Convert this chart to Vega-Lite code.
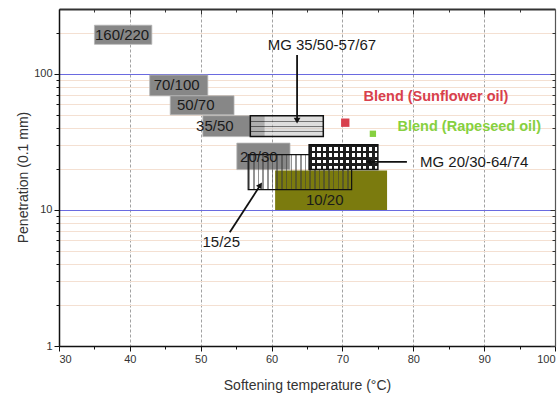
{
  "$schema": "https://vega.github.io/schema/vega-lite/v6.json",
  "width": 496,
  "height": 337,
  "autosize": {"type": "none"},
  "padding": {"left": 59, "top": 9, "right": 2, "bottom": 52},
  "background": "white",
  "config": {"view": {"stroke": null}, "font": "Liberation Sans"},
  "datasets": {
    "boxes": [
      {"name": "160/220", "kind": "grade", "x": 35, "x2": 43.1, "y": 165, "y2": 228},
      {"name": "70/100", "kind": "grade", "x": 42.8, "x2": 51, "y": 69, "y2": 98},
      {"name": "50/70", "kind": "grade", "x": 45.7, "x2": 54.7, "y": 50, "y2": 69},
      {"name": "35/50", "kind": "grade", "x": 50.3, "x2": 59, "y": 34.6, "y2": 49.3},
      {"name": "20/30", "kind": "grade", "x": 55.1, "x2": 62.6, "y": 19.8, "y2": 31},
      {"name": "10/20", "kind": "olive", "x": 60.5, "x2": 76.3, "y": 10, "y2": 19.5},
      {"name": "15/25", "kind": "striped", "x": 56.7, "x2": 71.3, "y": 14.1, "y2": 25.5},
      {"name": "MG 35/50-57/67", "kind": "mg1", "x": 57, "x2": 67.3, "y": 34.6, "y2": 49.3},
      {"name": "MG 20/30-64/74", "kind": "mg2", "x": 65.3, "x2": 75, "y": 19.8, "y2": 30.2}
    ],
    "gradeLabels": [
      {"text": "160/220", "x": 38.9, "y": 193},
      {"text": "70/100", "x": 46.6, "y": 83},
      {"text": "50/70", "x": 49.3, "y": 59.3},
      {"text": "35/50", "x": 52.0, "y": 41.6},
      {"text": "20/30", "x": 58.2, "y": 24.7},
      {"text": "10/20", "x": 67.5, "y": 11.9}
    ],
    "notes": [
      {"text": "MG 35/50-57/67", "x": 67.1, "y": 163},
      {"text": "MG 20/30-64/74", "x": 88.6, "y": 22.6},
      {"text": "15/25", "x": 52.9, "y": 5.78}
    ],
    "blends": [
      {"series": "Sunflower", "label": "Blend (Sunflower oil)", "x": 70.4, "y": 43.8, "lx": 83.2, "ly": 67.9},
      {"series": "Rapeseed", "label": "Blend (Rapeseed oil)", "x": 74.3, "y": 36.3, "lx": 87.9, "ly": 40.9}
    ],
    "arrows": [
      {"id": "a1", "x": 63.6, "y": 138, "x2": 63.6, "y2": 45.3},
      {"id": "a2", "x": 79.1, "y": 22.6, "x2": 73.75, "y2": 22.6},
      {"id": "a3", "x": 54.1, "y": 6.85, "x2": 58.42, "y2": 15.25}
    ]
  },
  "resolve": {"axis": {"x": "independent", "y": "independent"}},
  "layer": [
    {
      "data": {"name": "boxes"},
      "transform": [{"filter": "datum.kind == 'grade'"}],
      "mark": {"type": "rect", "fill": "#878787", "stroke": "#b4b4b4", "strokeWidth": 0.8},
      "encoding": {
        "x": {"field": "x", "type": "quantitative", "scale": {"domain": [30, 100], "nice": false, "zero": false},
          "axis": {"orient": "bottom", "values": [30, 40, 50, 60, 70, 80, 90, 100], "grid": true,
            "gridColor": {"condition": {"test": "datum.value == 30 || datum.value == 100", "value": "rgba(0,0,0,0)"}, "value": "#8a8a8a"},
            "gridDash": [3, 2], "gridWidth": 0.8, "domain": true, "domainColor": "#111", "domainWidth": 1.5,
            "tickColor": "#111", "tickSize": 5, "tickWidth": 1, "labelFont": "Liberation Sans", "labelFontSize": 11, "labelColor": "#333", "labelPadding": 2,
            "title": "Softening temperature (°C)", "titleFont": "Liberation Sans", "titleFontSize": 14, "titleFontWeight": "normal", "titleColor": "#333",
            "titleY": 39, "titleBaseline": "middle"}},
        "x2": {"field": "x2"},
        "y": {"field": "y", "type": "quantitative", "scale": {"type": "log", "domain": [1, 300], "nice": false},
          "axis": {"orient": "left", "values": [1, 10, 100], "format": "d", "grid": true,
            "gridColor": {"condition": {"test": "datum.value < 5", "value": "rgba(0,0,0,0)"}, "value": "#6a6ae0"},
            "gridWidth": 1, "domain": true, "domainColor": "#111", "domainWidth": 1.5,
            "tickColor": "#111", "tickSize": 5, "tickWidth": 1, "labelFont": "Liberation Sans", "labelFontSize": 11, "labelColor": "#333", "labelPadding": 2,
            "title": "Penetration (0.1 mm)", "titleFont": "Liberation Sans", "titleFontSize": 14, "titleFontWeight": "normal", "titleColor": "#333",
            "titleX": -36, "titleY": 168, "titleAngle": -90, "titleAlign": "center", "titleBaseline": "middle"}},
        "y2": {"field": "y2"}
      }
    },
    {
      "data": {"name": "boxes"},
      "transform": [{"filter": "datum.kind == 'olive'"}],
      "mark": {"type": "rect", "fill": "#7b7b0e"},
      "encoding": {
        "x": {"field": "x", "type": "quantitative", "scale": {"domain": [30, 100], "nice": false, "zero": false},
          "axis": {"orient": "bottom", "values": [35, 45, 55, 65, 75, 85, 95], "labels": false, "grid": false, "domain": false, "tickColor": "#111", "tickSize": 3, "title": null}},
        "x2": {"field": "x2"},
        "y": {"field": "y", "type": "quantitative", "scale": {"type": "log", "domain": [1, 300], "nice": false},
          "axis": {"orient": "left", "values": [2, 3, 4, 5, 6, 7, 8, 9, 20, 30, 40, 50, 60, 70, 80, 90, 200], "labels": false, "grid": true, "gridColor": "#f4e0d2", "gridWidth": 1,
            "domain": false, "tickColor": "#111", "tickSize": 3, "title": null}},
        "y2": {"field": "y2"}
      }
    },
    {
      "data": {"name": "boxes"},
      "transform": [{"filter": "datum.kind == 'striped'"}],
      "mark": {"type": "rect", "stroke": "#111", "strokeWidth": 1.2,
        "fill": {"gradient": "linear", "x1": 0, "y1": 0, "x2": 1, "y2": 0, "stops": [
          {"offset": 0, "color": "rgba(60,60,60,0.55)"}, {"offset": 0.0159, "color": "rgba(60,60,60,0.55)"}, {"offset": 0.0159, "color": "rgba(255,255,255,0)"}, {"offset": 0.0455, "color": "rgba(255,255,255,0)"},
          {"offset": 0.0455, "color": "rgba(60,60,60,0.55)"}, {"offset": 0.0614, "color": "rgba(60,60,60,0.55)"}, {"offset": 0.0614, "color": "rgba(255,255,255,0)"}, {"offset": 0.0909, "color": "rgba(255,255,255,0)"},
          {"offset": 0.0909, "color": "rgba(60,60,60,0.55)"}, {"offset": 0.1068, "color": "rgba(60,60,60,0.55)"}, {"offset": 0.1068, "color": "rgba(255,255,255,0)"}, {"offset": 0.1364, "color": "rgba(255,255,255,0)"},
          {"offset": 0.1364, "color": "rgba(60,60,60,0.55)"}, {"offset": 0.1523, "color": "rgba(60,60,60,0.55)"}, {"offset": 0.1523, "color": "rgba(255,255,255,0)"}, {"offset": 0.1818, "color": "rgba(255,255,255,0)"},
          {"offset": 0.1818, "color": "rgba(60,60,60,0.55)"}, {"offset": 0.1977, "color": "rgba(60,60,60,0.55)"}, {"offset": 0.1977, "color": "rgba(255,255,255,0)"}, {"offset": 0.2273, "color": "rgba(255,255,255,0)"},
          {"offset": 0.2273, "color": "rgba(60,60,60,0.55)"}, {"offset": 0.2432, "color": "rgba(60,60,60,0.55)"}, {"offset": 0.2432, "color": "rgba(255,255,255,0)"}, {"offset": 0.2727, "color": "rgba(255,255,255,0)"},
          {"offset": 0.2727, "color": "rgba(60,60,60,0.55)"}, {"offset": 0.2886, "color": "rgba(60,60,60,0.55)"}, {"offset": 0.2886, "color": "rgba(255,255,255,0)"}, {"offset": 0.3182, "color": "rgba(255,255,255,0)"},
          {"offset": 0.3182, "color": "rgba(60,60,60,0.55)"}, {"offset": 0.3341, "color": "rgba(60,60,60,0.55)"}, {"offset": 0.3341, "color": "rgba(255,255,255,0)"}, {"offset": 0.3636, "color": "rgba(255,255,255,0)"},
          {"offset": 0.3636, "color": "rgba(60,60,60,0.55)"}, {"offset": 0.3795, "color": "rgba(60,60,60,0.55)"}, {"offset": 0.3795, "color": "rgba(255,255,255,0)"}, {"offset": 0.4091, "color": "rgba(255,255,255,0)"},
          {"offset": 0.4091, "color": "rgba(60,60,60,0.55)"}, {"offset": 0.4250, "color": "rgba(60,60,60,0.55)"}, {"offset": 0.4250, "color": "rgba(255,255,255,0)"}, {"offset": 0.4545, "color": "rgba(255,255,255,0)"},
          {"offset": 0.4545, "color": "rgba(60,60,60,0.55)"}, {"offset": 0.4705, "color": "rgba(60,60,60,0.55)"}, {"offset": 0.4705, "color": "rgba(255,255,255,0)"}, {"offset": 0.5, "color": "rgba(255,255,255,0)"},
          {"offset": 0.5, "color": "rgba(60,60,60,0.55)"}, {"offset": 0.5159, "color": "rgba(60,60,60,0.55)"}, {"offset": 0.5159, "color": "rgba(255,255,255,0)"}, {"offset": 0.5455, "color": "rgba(255,255,255,0)"},
          {"offset": 0.5455, "color": "rgba(60,60,60,0.55)"}, {"offset": 0.5614, "color": "rgba(60,60,60,0.55)"}, {"offset": 0.5614, "color": "rgba(255,255,255,0)"}, {"offset": 0.5909, "color": "rgba(255,255,255,0)"},
          {"offset": 0.5909, "color": "rgba(60,60,60,0.55)"}, {"offset": 0.6068, "color": "rgba(60,60,60,0.55)"}, {"offset": 0.6068, "color": "rgba(255,255,255,0)"}, {"offset": 0.6364, "color": "rgba(255,255,255,0)"},
          {"offset": 0.6364, "color": "rgba(60,60,60,0.55)"}, {"offset": 0.6523, "color": "rgba(60,60,60,0.55)"}, {"offset": 0.6523, "color": "rgba(255,255,255,0)"}, {"offset": 0.6818, "color": "rgba(255,255,255,0)"},
          {"offset": 0.6818, "color": "rgba(60,60,60,0.55)"}, {"offset": 0.6977, "color": "rgba(60,60,60,0.55)"}, {"offset": 0.6977, "color": "rgba(255,255,255,0)"}, {"offset": 0.7273, "color": "rgba(255,255,255,0)"},
          {"offset": 0.7273, "color": "rgba(60,60,60,0.55)"}, {"offset": 0.7432, "color": "rgba(60,60,60,0.55)"}, {"offset": 0.7432, "color": "rgba(255,255,255,0)"}, {"offset": 0.7727, "color": "rgba(255,255,255,0)"},
          {"offset": 0.7727, "color": "rgba(60,60,60,0.55)"}, {"offset": 0.7886, "color": "rgba(60,60,60,0.55)"}, {"offset": 0.7886, "color": "rgba(255,255,255,0)"}, {"offset": 0.8182, "color": "rgba(255,255,255,0)"},
          {"offset": 0.8182, "color": "rgba(60,60,60,0.55)"}, {"offset": 0.8341, "color": "rgba(60,60,60,0.55)"}, {"offset": 0.8341, "color": "rgba(255,255,255,0)"}, {"offset": 0.8636, "color": "rgba(255,255,255,0)"},
          {"offset": 0.8636, "color": "rgba(60,60,60,0.55)"}, {"offset": 0.8795, "color": "rgba(60,60,60,0.55)"}, {"offset": 0.8795, "color": "rgba(255,255,255,0)"}, {"offset": 0.9091, "color": "rgba(255,255,255,0)"},
          {"offset": 0.9091, "color": "rgba(60,60,60,0.55)"}, {"offset": 0.9250, "color": "rgba(60,60,60,0.55)"}, {"offset": 0.9250, "color": "rgba(255,255,255,0)"}, {"offset": 0.9545, "color": "rgba(255,255,255,0)"},
          {"offset": 0.9545, "color": "rgba(60,60,60,0.55)"}, {"offset": 0.9705, "color": "rgba(60,60,60,0.55)"}, {"offset": 0.9705, "color": "rgba(255,255,255,0)"}, {"offset": 1, "color": "rgba(255,255,255,0)"}
        ]}},
      "encoding": {
        "x": {"field": "x", "type": "quantitative", "scale": {"domain": [30, 100], "nice": false, "zero": false},
          "axis": {"orient": "top", "values": [30, 40, 50, 60, 70, 80, 90, 100], "labels": false, "grid": false, "domain": true, "domainColor": "#333", "domainWidth": 2, "tickColor": "#333", "tickSize": -5, "title": null}},
        "x2": {"field": "x2"},
        "y": {"field": "y", "type": "quantitative", "scale": {"type": "log", "domain": [1, 300], "nice": false},
          "axis": {"orient": "right", "values": [1, 10, 100], "labels": false, "grid": false, "domain": true, "domainColor": "#555", "domainWidth": 1.2, "tickColor": "#333", "tickSize": -5, "title": null}},
        "y2": {"field": "y2"}
      }
    },
    {
      "data": {"name": "boxes"},
      "transform": [{"filter": "datum.kind == 'mg1'"}],
      "mark": {"type": "rect", "stroke": "#111", "strokeWidth": 1.5,
        "fill": {"gradient": "linear", "x1": 0, "y1": 0, "x2": 0, "y2": 1, "stops": [
          {"offset": 0, "color": "rgba(70,70,70,0.75)"}, {"offset": 0.03, "color": "rgba(70,70,70,0.75)"}, {"offset": 0.03, "color": "rgba(200,200,200,0.6)"}, {"offset": 0.25, "color": "rgba(200,200,200,0.6)"},
          {"offset": 0.25, "color": "rgba(70,70,70,0.75)"}, {"offset": 0.28, "color": "rgba(70,70,70,0.75)"}, {"offset": 0.28, "color": "rgba(200,200,200,0.6)"}, {"offset": 0.5, "color": "rgba(200,200,200,0.6)"},
          {"offset": 0.5, "color": "rgba(70,70,70,0.75)"}, {"offset": 0.53, "color": "rgba(70,70,70,0.75)"}, {"offset": 0.53, "color": "rgba(200,200,200,0.6)"}, {"offset": 0.75, "color": "rgba(200,200,200,0.6)"},
          {"offset": 0.75, "color": "rgba(70,70,70,0.75)"}, {"offset": 0.78, "color": "rgba(70,70,70,0.75)"}, {"offset": 0.78, "color": "rgba(200,200,200,0.6)"}, {"offset": 1, "color": "rgba(200,200,200,0.6)"}
        ]}},
      "encoding": {
        "x": {"field": "x", "type": "quantitative", "scale": {"domain": [30, 100], "nice": false, "zero": false},
          "axis": {"orient": "top", "values": [35, 45, 55, 65, 75, 85, 95], "labels": false, "grid": false, "domain": false, "tickColor": "#333", "tickSize": -3, "title": null}},
        "x2": {"field": "x2"},
        "y": {"field": "y", "type": "quantitative", "scale": {"type": "log", "domain": [1, 300], "nice": false},
          "axis": {"orient": "right", "values": [2, 3, 4, 5, 6, 7, 8, 9, 20, 30, 40, 50, 60, 70, 80, 90, 200], "labels": false, "grid": false, "domain": false, "tickColor": "#333", "tickSize": -3, "title": null}},
        "y2": {"field": "y2"}
      }
    },
    {
      "data": {"name": "boxes"},
      "transform": [{"filter": "datum.kind == 'mg2'"}],
      "mark": {"type": "rect", "fill": "white"},
      "encoding": {
        "x": {"field": "x", "type": "quantitative", "scale": {"domain": [30, 100], "nice": false, "zero": false}, "axis": null},
        "x2": {"field": "x2"},
        "y": {"field": "y", "type": "quantitative", "scale": {"type": "log", "domain": [1, 300], "nice": false}, "axis": null},
        "y2": {"field": "y2"}
      }
    },
    {
      "data": {"name": "boxes"},
      "transform": [{"filter": "datum.kind == 'mg2'"}],
      "mark": {"type": "rect",
        "fill": {"gradient": "linear", "x1": 0, "y1": 0, "x2": 1, "y2": 0, "stops": [
          {"offset": 0, "color": "#1e1e1e"}, {"offset": 0.035, "color": "#1e1e1e"}, {"offset": 0.035, "color": "rgba(255,255,255,0)"}, {"offset": 0.0833, "color": "rgba(255,255,255,0)"},
          {"offset": 0.0833, "color": "#1e1e1e"}, {"offset": 0.1183, "color": "#1e1e1e"}, {"offset": 0.1183, "color": "rgba(255,255,255,0)"}, {"offset": 0.1667, "color": "rgba(255,255,255,0)"},
          {"offset": 0.1667, "color": "#1e1e1e"}, {"offset": 0.2017, "color": "#1e1e1e"}, {"offset": 0.2017, "color": "rgba(255,255,255,0)"}, {"offset": 0.25, "color": "rgba(255,255,255,0)"},
          {"offset": 0.25, "color": "#1e1e1e"}, {"offset": 0.285, "color": "#1e1e1e"}, {"offset": 0.285, "color": "rgba(255,255,255,0)"}, {"offset": 0.3333, "color": "rgba(255,255,255,0)"},
          {"offset": 0.3333, "color": "#1e1e1e"}, {"offset": 0.3683, "color": "#1e1e1e"}, {"offset": 0.3683, "color": "rgba(255,255,255,0)"}, {"offset": 0.4167, "color": "rgba(255,255,255,0)"},
          {"offset": 0.4167, "color": "#1e1e1e"}, {"offset": 0.4517, "color": "#1e1e1e"}, {"offset": 0.4517, "color": "rgba(255,255,255,0)"}, {"offset": 0.5, "color": "rgba(255,255,255,0)"},
          {"offset": 0.5, "color": "#1e1e1e"}, {"offset": 0.535, "color": "#1e1e1e"}, {"offset": 0.535, "color": "rgba(255,255,255,0)"}, {"offset": 0.5833, "color": "rgba(255,255,255,0)"},
          {"offset": 0.5833, "color": "#1e1e1e"}, {"offset": 0.6183, "color": "#1e1e1e"}, {"offset": 0.6183, "color": "rgba(255,255,255,0)"}, {"offset": 0.6667, "color": "rgba(255,255,255,0)"},
          {"offset": 0.6667, "color": "#1e1e1e"}, {"offset": 0.7017, "color": "#1e1e1e"}, {"offset": 0.7017, "color": "rgba(255,255,255,0)"}, {"offset": 0.75, "color": "rgba(255,255,255,0)"},
          {"offset": 0.75, "color": "#1e1e1e"}, {"offset": 0.785, "color": "#1e1e1e"}, {"offset": 0.785, "color": "rgba(255,255,255,0)"}, {"offset": 0.8333, "color": "rgba(255,255,255,0)"},
          {"offset": 0.8333, "color": "#1e1e1e"}, {"offset": 0.8683, "color": "#1e1e1e"}, {"offset": 0.8683, "color": "rgba(255,255,255,0)"}, {"offset": 0.9167, "color": "rgba(255,255,255,0)"},
          {"offset": 0.9167, "color": "#1e1e1e"}, {"offset": 0.9517, "color": "#1e1e1e"}, {"offset": 0.9517, "color": "rgba(255,255,255,0)"}, {"offset": 1, "color": "rgba(255,255,255,0)"}
        ]}},
      "encoding": {
        "x": {"field": "x", "type": "quantitative", "scale": {"domain": [30, 100], "nice": false, "zero": false}, "axis": null},
        "x2": {"field": "x2"},
        "y": {"field": "y", "type": "quantitative", "scale": {"type": "log", "domain": [1, 300], "nice": false}, "axis": null},
        "y2": {"field": "y2"}
      }
    },
    {
      "data": {"name": "boxes"},
      "transform": [{"filter": "datum.kind == 'mg2'"}],
      "mark": {"type": "rect", "stroke": "#111", "strokeWidth": 1.5,
        "fill": {"gradient": "linear", "x1": 0, "y1": 0, "x2": 0, "y2": 1, "stops": [
          {"offset": 0, "color": "#1e1e1e"}, {"offset": 0.1, "color": "#1e1e1e"}, {"offset": 0.1, "color": "rgba(255,255,255,0)"}, {"offset": 0.25, "color": "rgba(255,255,255,0)"},
          {"offset": 0.25, "color": "#1e1e1e"}, {"offset": 0.35, "color": "#1e1e1e"}, {"offset": 0.35, "color": "rgba(255,255,255,0)"}, {"offset": 0.5, "color": "rgba(255,255,255,0)"},
          {"offset": 0.5, "color": "#1e1e1e"}, {"offset": 0.6, "color": "#1e1e1e"}, {"offset": 0.6, "color": "rgba(255,255,255,0)"}, {"offset": 0.75, "color": "rgba(255,255,255,0)"},
          {"offset": 0.75, "color": "#1e1e1e"}, {"offset": 0.85, "color": "#1e1e1e"}, {"offset": 0.85, "color": "rgba(255,255,255,0)"}, {"offset": 1, "color": "rgba(255,255,255,0)"}
        ]}},
      "encoding": {
        "x": {"field": "x", "type": "quantitative", "scale": {"domain": [30, 100], "nice": false, "zero": false}, "axis": null},
        "x2": {"field": "x2"},
        "y": {"field": "y", "type": "quantitative", "scale": {"type": "log", "domain": [1, 300], "nice": false}, "axis": null},
        "y2": {"field": "y2"}
      }
    },
    {
      "data": {"name": "arrows"},
      "mark": {"type": "rule", "color": "#111", "strokeWidth": 1.8},
      "encoding": {
        "x": {"field": "x", "type": "quantitative", "scale": {"domain": [30, 100], "nice": false, "zero": false}, "axis": null},
        "x2": {"field": "x2"},
        "y": {"field": "y", "type": "quantitative", "scale": {"type": "log", "domain": [1, 300], "nice": false}, "axis": null},
        "y2": {"field": "y2"}
      }
    },
    {
      "data": {"name": "arrows"},
      "transform": [{"filter": "datum.id == 'a1'"}],
      "mark": {"type": "point", "shape": "triangle-down", "filled": true, "color": "#111", "size": 45, "opacity": 1},
      "encoding": {
        "x": {"field": "x2", "type": "quantitative", "scale": {"domain": [30, 100], "nice": false, "zero": false}, "axis": null},
        "y": {"field": "y2", "type": "quantitative", "scale": {"type": "log", "domain": [1, 300], "nice": false}, "axis": null}
      }
    },
    {
      "data": {"name": "arrows"},
      "transform": [{"filter": "datum.id == 'a2'"}],
      "mark": {"type": "point", "shape": "triangle-left", "filled": true, "color": "#111", "size": 45, "opacity": 1},
      "encoding": {
        "x": {"field": "x2", "type": "quantitative", "scale": {"domain": [30, 100], "nice": false, "zero": false}, "axis": null},
        "y": {"field": "y2", "type": "quantitative", "scale": {"type": "log", "domain": [1, 300], "nice": false}, "axis": null}
      }
    },
    {
      "data": {"name": "arrows"},
      "transform": [{"filter": "datum.id == 'a3'"}],
      "mark": {"type": "point", "shape": "triangle-up", "angle": 33, "filled": true, "color": "#111", "size": 45, "opacity": 1},
      "encoding": {
        "x": {"field": "x2", "type": "quantitative", "scale": {"domain": [30, 100], "nice": false, "zero": false}, "axis": null},
        "y": {"field": "y2", "type": "quantitative", "scale": {"type": "log", "domain": [1, 300], "nice": false}, "axis": null}
      }
    },
    {
      "data": {"name": "blends"},
      "mark": {"type": "square", "opacity": 1},
      "encoding": {
        "x": {"field": "x", "type": "quantitative", "scale": {"domain": [30, 100], "nice": false, "zero": false}, "axis": null},
        "y": {"field": "y", "type": "quantitative", "scale": {"type": "log", "domain": [1, 300], "nice": false}, "axis": null},
        "color": {"field": "series", "type": "nominal", "scale": {"domain": ["Sunflower", "Rapeseed"], "range": ["#d8404c", "#86d040"]}, "legend": null},
        "size": {"field": "series", "type": "nominal", "scale": {"domain": ["Sunflower", "Rapeseed"], "range": [70, 40]}, "legend": null}
      }
    },
    {
      "data": {"name": "gradeLabels"},
      "mark": {"type": "text", "font": "Liberation Sans", "fontSize": 15, "color": "#1a1a1a", "align": "center", "baseline": "middle"},
      "encoding": {
        "x": {"field": "x", "type": "quantitative", "scale": {"domain": [30, 100], "nice": false, "zero": false}, "axis": null},
        "y": {"field": "y", "type": "quantitative", "scale": {"type": "log", "domain": [1, 300], "nice": false}, "axis": null},
        "text": {"field": "text"}
      }
    },
    {
      "data": {"name": "notes"},
      "mark": {"type": "text", "font": "Liberation Sans", "fontSize": 15, "color": "#1a1a1a", "align": "center", "baseline": "middle"},
      "encoding": {
        "x": {"field": "x", "type": "quantitative", "scale": {"domain": [30, 100], "nice": false, "zero": false}, "axis": null},
        "y": {"field": "y", "type": "quantitative", "scale": {"type": "log", "domain": [1, 300], "nice": false}, "axis": null},
        "text": {"field": "text"}
      }
    },
    {
      "data": {"name": "blends"},
      "mark": {"type": "text", "font": "Liberation Sans", "fontSize": 14.5, "fontWeight": "bold", "align": "center", "baseline": "middle"},
      "encoding": {
        "x": {"field": "lx", "type": "quantitative", "scale": {"domain": [30, 100], "nice": false, "zero": false}, "axis": null},
        "y": {"field": "ly", "type": "quantitative", "scale": {"type": "log", "domain": [1, 300], "nice": false}, "axis": null},
        "text": {"field": "label"},
        "color": {"field": "series", "type": "nominal", "scale": {"domain": ["Sunflower", "Rapeseed"], "range": ["#e04a4c", "#86d83c"]}, "legend": null}
      }
    }
  ]
}
